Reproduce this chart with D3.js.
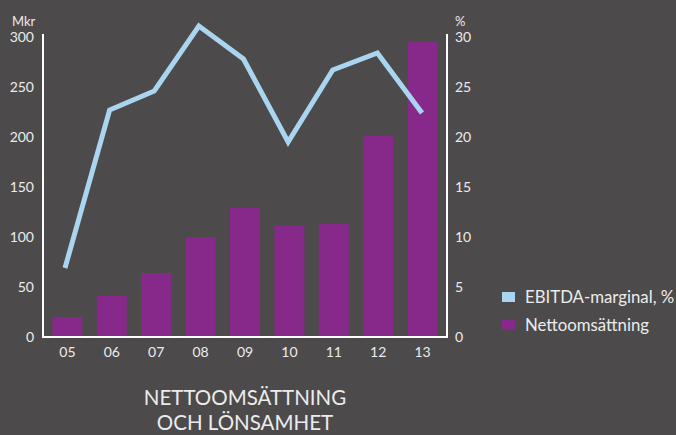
<!DOCTYPE html>
<html><head><meta charset="utf-8">
<script src="https://cdn.jsdelivr.net/npm/d3@7"></script>
<style>
html,body{margin:0;padding:0;background:#4c4a4b;}
svg{display:block;}
text{font-family:Lato, "Open Sans", sans-serif;fill:#ececec;}
</style></head>
<body>
<script>
const years = ["05","06","07","08","09","10","11","12","13"];
const nettoomsattning = [20, 41, 64, 100, 129, 111, 113, 201, 295];
const ebitdaMarginal = [6.9, 22.7, 24.6, 31.1, 27.8, 19.5, 26.7, 28.4, 22.4];
const leftTicks = [0, 50, 100, 150, 200, 250, 300];
const rightTicks = [0, 5, 10, 15, 20, 25, 30];
const legendLabels = ["EBITDA-marginal, %", "Nettoomsättning"];
const titleLines = ["NETTOOMSÄTTNING", "OCH LÖNSAMHET"];

const W = 676, H = 435;
const m = {left: 43, right: 447, top: 37, bottom: 337};
const svg = d3.select("body").append("svg").attr("width", W).attr("height", H);

const x = d3.scaleBand().domain(years).range([m.left, m.right]).paddingInner(0.324).paddingOuter(0.212);
const xLine = d3.scalePoint().domain(years).range([65, 422]);
const yL = d3.scaleLinear().domain([0, 300]).range([m.bottom, m.top]);
const yR = d3.scaleLinear().domain([0, 30]).range([m.bottom, m.top]);

// bars
svg.append("g").selectAll("rect").data(years).join("rect")
  .attr("x", d => x(d)).attr("width", x.bandwidth())
  .attr("y", (d,i) => yL(nettoomsattning[i]))
  .attr("height", (d,i) => yL(0) - yL(nettoomsattning[i]))
  .attr("fill", "#87298b");

// line
const line = d3.line().x((d,i) => xLine(years[i])).y(d => yR(d));
svg.append("path").datum(ebitdaMarginal).attr("d", line)
  .attr("fill", "none").attr("stroke", "#a9d5f0").attr("stroke-width", 5)
  .attr("stroke-linejoin", "miter");

// axes frame
const frame = svg.append("g").attr("stroke", "#ffffff").attr("stroke-width", 2).attr("fill", "none");
frame.append("path").attr("d", `M${m.left},${m.top-3}V${m.bottom}H${m.right}V${m.top-3}`);

// left ticks labels
const axL = d3.axisLeft(yL).tickValues(leftTicks).tickSize(0).tickPadding(9);
const gL = svg.append("g").attr("transform", `translate(${m.left},0)`).call(axL);
gL.select(".domain").remove();
gL.selectAll("text").attr("font-size", 14).attr("font-family", "Lato").attr("fill", "#ececec");

const axR = d3.axisRight(yR).tickValues(rightTicks).tickSize(0).tickPadding(8);
const gR = svg.append("g").attr("transform", `translate(${m.right},0)`).call(axR);
gR.select(".domain").remove();
gR.selectAll("text").attr("font-size", 14).attr("font-family", "Lato").attr("fill", "#ececec");

const axB = d3.axisBottom(x).tickSize(0).tickPadding(10);
const gB = svg.append("g").attr("transform", `translate(0,${m.bottom})`).call(axB);
gB.select(".domain").remove();
gB.selectAll("text").attr("font-size", 14).attr("font-family", "Lato").attr("fill", "#ececec");

// units
svg.append("text").attr("x", 12).attr("y", 26).attr("font-size", 13).text("Mkr");
svg.append("text").attr("x", 455).attr("y", 26).attr("font-size", 13).text("%");

// legend
const legColors = ["#a9d5f0", "#87298b"];
const leg = svg.append("g");
legendLabels.forEach((t, i) => {
  const yy = 292 + i * 28;
  leg.append("rect").attr("x", 502).attr("y", yy).attr("width", 13).attr("height", 10).attr("fill", legColors[i]);
  leg.append("text").attr("x", 525).attr("y", yy + 11).attr("font-size", 16.8).text(t);
});

// title
titleLines.forEach((t, i) => {
  svg.append("text").attr("x", 245).attr("y", 405 + i * 25).attr("text-anchor", "middle")
    .attr("font-size", 20.5).text(t);
});
</script>
</body></html>
